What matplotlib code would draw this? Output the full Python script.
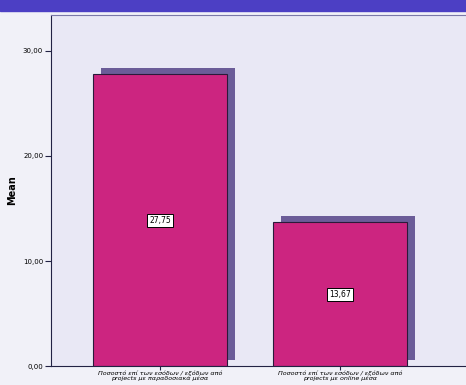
import matplotlib.pyplot as plt
import matplotlib.transforms as mtransforms
from matplotlib.patches import Rectangle

categories = ["Ποσοστό επί των εσόδων / εξόδων από\nprojects με παραδοσιακά μέσα",
              "Ποσοστό επί των εσόδων / εξόδων από\nprojects με online μέσα"]
means = [27.75, 13.67]
value_labels = ["27,75", "13,67"]
yticks = [0, 10, 20, 30]
ytick_labels = ["0,00", "10,00", "20,00", "30,00"]

fig = plt.figure(figsize=(4.66, 3.85), dpi=100)
fig.patch.set_facecolor("#f1f1f8")
# blue band at the top
fig.add_artist(Rectangle((0, 0.972), 1, 0.03, transform=fig.transFigure,
                         color="#4c3fc4", zorder=0))

ax = fig.add_axes([0.109, 0.049, 0.891, 0.912])
ax.set_facecolor("#e9e8f5")

x = [0, 1]
shadow = mtransforms.ScaledTranslation(8 / 100, 6 / 100, fig.dpi_scale_trans)
sb = ax.bar(x, means, width=0.745, color="#6b5c98", zorder=1)
for r in sb:
    r.set_transform(ax.transData + shadow)
ax.bar(x, means, width=0.745, color="#cc2580", edgecolor="#2a1a3a",
       linewidth=0.8, zorder=2)

for xi, m, lab in zip(x, means, value_labels):
    ax.text(xi, m / 2, lab, ha="center", va="center", fontsize=5.5, zorder=3,
            bbox=dict(boxstyle="square,pad=0.25", fc="white", ec="black", lw=0.7))

ax.set_xlim(-0.606, 1.7)
ax.set_ylim(0, 33.4)
ax.set_yticks(yticks)
ax.set_yticklabels(ytick_labels, fontsize=5)
ax.set_xticks(x)
ax.set_xticklabels(categories, fontsize=4.6, style="italic", linespacing=0.85)
ax.tick_params(axis="y", length=4, width=0.8, color="#222244", pad=1.5)
ax.tick_params(axis="x", length=3, width=0.8, color="#222244", pad=0.5)
ax.set_ylabel("Mean", fontsize=7, fontweight="bold", labelpad=4)

ax.spines["right"].set_visible(False)
ax.spines["top"].set_color("#7a78a8")
ax.spines["left"].set_color("#222244")
ax.spines["bottom"].set_color("#222244")

fig.savefig("out.png", dpi=100, facecolor=fig.get_facecolor())
